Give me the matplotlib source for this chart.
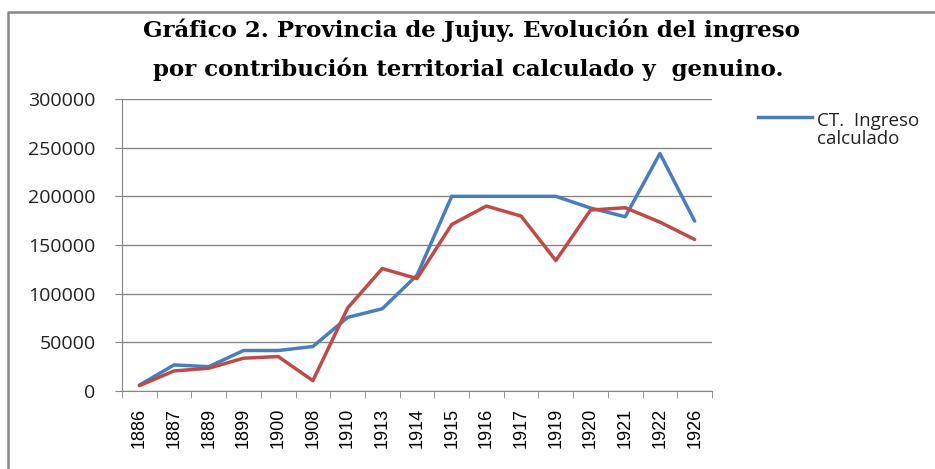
import matplotlib.pyplot as plt
import numpy as np
from matplotlib.lines import Line2D

years = ["1886", "1887", "1889", "1899", "1900", "1908", "1910", "1913", "1914",
         "1915", "1916", "1917", "1919", "1920", "1921", "1922", "1926"]
calculado = [6000, 26800, 25000, 41600, 41600, 45700, 75600, 84500, 119000,
             200000, 200000, 200000, 200000, 188000, 179000, 244000, 174600]
genuino = [5500, 20600, 23400, 33700, 35400, 10600, 85200, 125800, 115500,
           171100, 190000, 179700, 134000, 185900, 188300, 173500, 155700]

W, H = 935, 469
fig = plt.figure(figsize=(W / 100, H / 100), dpi=100)
ax = fig.add_axes([122 / W, 1 - 391 / H, (712 - 122) / W, (391 - 99) / H])

x = np.arange(len(years))
ax.plot(x, calculado, color="#4A7EBB", lw=2.5, solid_capstyle="round", zorder=3)
ax.plot(x, genuino, color="#BE4B48", lw=2.5, solid_capstyle="round", zorder=3)

ax.set_xlim(-0.5, len(years) - 0.5)
ax.set_ylim(0, 300000)
ax.set_yticks(np.arange(0, 300001, 50000))
ax.set_yticklabels([str(v) for v in range(0, 300001, 50000)],
                   fontsize=14, family="Open Sans", color="#222222")
ax.grid(axis="y", color="#868686", lw=1)
ax.set_axisbelow(True)

ax.set_xticks(x)
ax.set_xticklabels(years, rotation=90, fontsize=13, family="Liberation Sans")
ax.set_xticks(np.arange(len(years) + 1) - 0.5, minor=True)
ax.tick_params(axis="x", which="major", length=0, pad=12)
ax.tick_params(axis="x", which="minor", length=5, color="#868686")
ax.tick_params(axis="y", length=5, color="#868686", pad=14)

for s in ["top", "right"]:
    ax.spines[s].set_visible(False)
ax.spines["left"].set_color("#868686")
ax.spines["bottom"].set_color("#868686")

fig.text(471 / W, 1 - 30 / H, "Gráfico 2. Provincia de Jujuy. Evolución del ingreso",
         ha="center", va="center", fontsize=16.5, fontweight="bold",
         family="DejaVu Serif")
fig.text(468 / W, 1 - 69 / H, "por contribución territorial calculado y  genuino.",
         ha="center", va="center", fontsize=16.5, fontweight="bold",
         family="DejaVu Serif")

# legend (only first entry visible)
fig.add_artist(Line2D([758 / W, 812 / W], [1 - 117 / H, 1 - 117 / H],
                      color="#4A7EBB", lw=2.5))
fig.text(817 / W, 1 - 130 / H, "CT.  Ingreso\ncalculado", ha="left", va="center",
         fontsize=13.5, family="Open Sans", linespacing=1.0, color="#222222")

# chart border
fig.add_artist(Line2D([8 / W, 8 / W, 1.0], [0.0, 1 - 12 / H, 1 - 12 / H],
                      color="#888888", lw=1.8))

fig.savefig("out.png", dpi=100)
